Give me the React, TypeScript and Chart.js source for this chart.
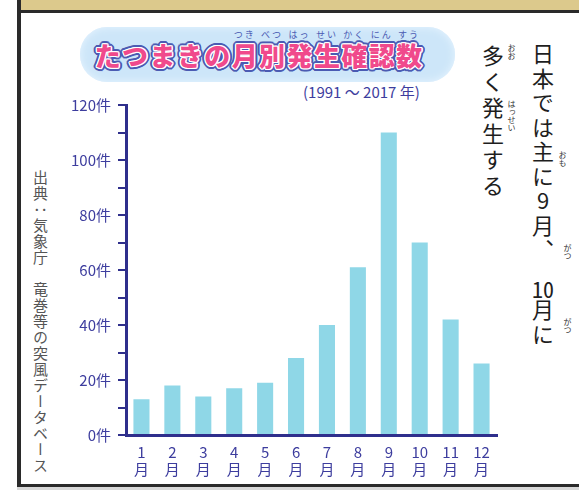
import React, { useEffect, useRef } from 'react';
import { Chart, registerables } from 'chart.js';

Chart.register(...registerables);

// ---- data ----
const months = ['1', '2', '3', '4', '5', '6', '7', '8', '9', '10', '11', '12'];
const monthSuffix = '月';
const counts = [13, 18, 14, 17, 19, 28, 40, 61, 110, 70, 42, 26];
const yMax = 120;
const yMinorStep = 10;
const yLabelStep = 20;
const unit = '件';

const titleChars = ['た', 'つ', 'ま', 'き', 'の', '月', '別', '発', '生', '確', '認', '数'];
const titleRuby = ['', '', '', '', '', 'つき', 'べつ', 'はっ', 'せい', 'かく', 'にん', 'すう'];
const subtitle = '(1991 ～ 2017 年)';
const sourceText = '出典：気象庁　竜巻等の突風データベース';

// ---- styles ----
const FONT = '"Noto Sans CJK JP", "Noto Sans", sans-serif';
const axisColor = '#2f2f8c';
const labelColor = '#3d3d9e';
const barColor = '#8fd7e7';

const outline = (() => {
  const parts: string[] = [];
  for (let i = 0; i < 8; i++) {
    const a = (i / 8) * Math.PI * 2;
    parts.push(`${(Math.cos(a) * 1.3).toFixed(2)}px ${(Math.sin(a) * 1.3).toFixed(2)}px 0 #ffffff`);
  }
  for (let i = 0; i < 16; i++) {
    const a = (i / 16) * Math.PI * 2;
    parts.push(`${(Math.cos(a) * 3.2).toFixed(2)}px ${(Math.sin(a) * 3.2).toFixed(2)}px 0 #4b5bb3`);
  }
  return parts.join(',');
})();

const TITLE_X = 94;
const TITLE_PITCH = 27.4;

export default function App() {
  const ref = useRef<HTMLCanvasElement | null>(null);

  useEffect(() => {
    const canvas = ref.current;
    if (!canvas) return;
    const chart = new Chart(canvas, {
      type: 'bar',
      data: {
        labels: months.map((m) => [m, monthSuffix]),
        datasets: [
          {
            data: counts,
            backgroundColor: barColor,
            borderWidth: 0,
            barPercentage: 0.52,
            categoryPercentage: 1,
          },
        ],
      },
      options: {
        responsive: false,
        animation: false,
        devicePixelRatio: 1,
        layout: { padding: { left: 0, top: 105, right: 82, bottom: 0 } },
        plugins: { legend: { display: false }, tooltip: { enabled: false } },
        scales: {
          x: {
            offset: true,
            grid: { display: false },
            border: { display: true, color: axisColor, width: 3 },
            ticks: {
              color: labelColor,
              font: { family: FONT, size: 15, lineHeight: 1.12 },
              padding: 1,
              maxRotation: 0,
              autoSkip: false,
            },
            afterFit: (s: any) => {
              s.height = 55;
            },
          },
          y: {
            min: 0,
            max: yMax,
            ticks: {
              stepSize: yMinorStep,
              autoSkip: false,
              color: labelColor,
              font: { family: FONT, size: 15 },
              padding: 7,
              callback: (v: any) => (Number(v) % yLabelStep === 0 ? `${v}${unit}` : ''),
            },
            grid: {
              drawOnChartArea: false,
              drawTicks: true,
              tickLength: 8,
              color: axisColor,
              lineWidth: 2,
            },
            border: { color: axisColor, width: 3 },
            afterFit: (s: any) => {
              s.width = 126;
            },
          },
        },
      },
    } as any);
    return () => chart.destroy();
  }, []);

  const vText = (extra: React.CSSProperties): React.CSSProperties => ({
    position: 'absolute',
    writingMode: 'vertical-rl',
    textOrientation: 'upright',
    fontFamily: FONT,
    whiteSpace: 'nowrap',
    margin: 0,
    ...extra,
  });

  const ruby = (text: string, left: number, top: number): React.ReactElement => (
    <div
      key={`${text}-${left}-${top}`}
      style={vText({ left, top, fontSize: 8, lineHeight: '8px', color: '#333', letterSpacing: 0 })}
    >
      {text}
    </div>
  );

  return (
    <div
      style={{
        position: 'fixed',
        left: 0,
        top: 0,
        width: 579,
        height: 490,
        background: '#ffffff',
        overflow: 'hidden',
      }}
    >
      {/* frame */}
      <div style={{ position: 'absolute', left: 21, top: 0, width: 558, height: 10, background: '#dcc98c' }} />
      <div style={{ position: 'absolute', left: 17, top: 10, width: 562, height: 3, background: '#2a2a2a' }} />
      <div style={{ position: 'absolute', left: 17, top: 0, width: 4, height: 487, background: '#2a2a2a' }} />
      <div style={{ position: 'absolute', left: 17, top: 484, width: 562, height: 3, background: '#2a2a2a' }} />
      <div style={{ position: 'absolute', left: 17, top: 487, width: 562, height: 3, background: '#d8d8d8' }} />

      {/* title pill */}
      <div
        style={{
          position: 'absolute',
          left: 80,
          top: 27,
          width: 375,
          height: 55,
          borderRadius: 27,
          background: '#cde6f9',
          boxShadow: 'inset 0 0 8px #e9f5fe',
        }}
      />
      {titleChars.map((c, i) => (
        <div
          key={`t${i}`}
          style={{
            position: 'absolute',
            left: TITLE_X + i * TITLE_PITCH,
            top: 40,
            width: TITLE_PITCH,
            textAlign: 'center',
            fontFamily: FONT,
            fontWeight: 900,
            fontSize: 26,
            lineHeight: '30px',
            color: '#f04a8c',
            textShadow: outline,
          }}
        >
          {c}
        </div>
      ))}
      {titleRuby.map((r, i) =>
        r ? (
          <div
            key={`r${i}`}
            style={{
              position: 'absolute',
              left: TITLE_X + i * TITLE_PITCH - 6,
              top: 30,
              width: TITLE_PITCH + 12,
              textAlign: 'center',
              fontFamily: FONT,
              fontSize: 9,
              lineHeight: '10px',
              letterSpacing: 2,
              color: '#4b5bb3',
            }}
          >
            {r}
          </div>
        ) : null
      )}
      <div
        style={{
          position: 'absolute',
          left: 303,
          top: 83,
          fontFamily: FONT,
          fontSize: 15,
          lineHeight: '18px',
          color: labelColor,
          whiteSpace: 'nowrap',
        }}
      >
        {subtitle}
      </div>

      {/* source (vertical, left) */}
      <div style={vText({ left: 32, top: 170, fontSize: 15, lineHeight: '16px', letterSpacing: 1, color: '#555555' })}>
        {sourceText}
      </div>

      {/* right vertical text */}
      <div style={vText({ left: 532, top: 43, fontSize: 22, lineHeight: '22px', letterSpacing: 2.5, color: '#1e1e1e' })}>
        日本では主に9月、　<span style={{ textCombineUpright: 'all' } as any}>10</span>月に
      </div>
      <div style={vText({ left: 482, top: 45, fontSize: 22, lineHeight: '22px', letterSpacing: 4, color: '#1e1e1e' })}>
        多く発生する
      </div>
      {ruby('おも', 558, 151)}
      {ruby('がつ', 563, 244)}
      {ruby('がつ', 563, 318)}
      {ruby('おお', 507, 44)}
      {ruby('はっせい', 507, 100)}

      <canvas
        ref={ref}
        width={579}
        height={490}
        style={{ position: 'absolute', left: 0, top: 0, width: 579, height: 490 }}
      />
    </div>
  );
}
